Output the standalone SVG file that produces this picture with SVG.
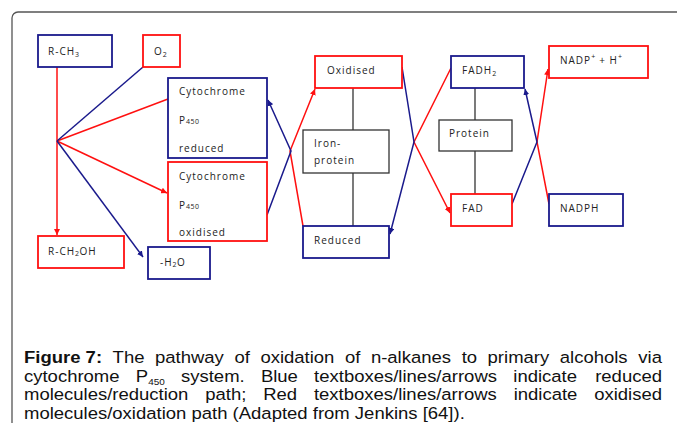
<svg xmlns="http://www.w3.org/2000/svg" width="677" height="423" viewBox="0 0 677 423">
<style>
.bg{fill:#fff}
.frame{fill:none;stroke:#555;stroke-width:1.3}
.bx{fill:#fff;stroke-width:1.8}
.red{stroke:#ff1010}
.blue{stroke:#1a1a8c}
.blk{fill:#fff;stroke:#333;stroke-width:1.3}
.t{font-family:"Open Sans","DejaVu Sans",sans-serif;font-size:10px;letter-spacing:1px;fill:#222}
.sub{font-size:7px;letter-spacing:0.5px}
.ln{fill:none;stroke-width:1.5}
.cap{font-family:"Liberation Sans",Arial,sans-serif;font-size:16.7px;fill:#111}
.b{font-weight:bold}
</style>
<defs>
<marker id="ar" viewBox="0 0 6 6" refX="6" refY="3" markerWidth="6" markerHeight="6" markerUnits="userSpaceOnUse" orient="auto"><path d="M0,0 L6,3 L0,6 z" fill="#ff1010"/></marker>
<marker id="ab" viewBox="0 0 6 6" refX="6" refY="3" markerWidth="6" markerHeight="6" markerUnits="userSpaceOnUse" orient="auto"><path d="M0,0 L6,3 L0,6 z" fill="#1a1a8c"/></marker>
</defs>
<rect class="bg" x="0" y="0" width="677" height="423"/>
<rect class="frame" x="12" y="12" width="700" height="450" rx="6"/>

<g id="connectors">
<line class="ln red" x1="57" y1="67" x2="57" y2="235" marker-end="url(#ar)"/>
<line class="ln red" x1="168" y1="99" x2="57" y2="141"/>
<line class="ln red" x1="57" y1="141" x2="167" y2="193" marker-end="url(#ar)"/>
<line class="ln blue" x1="143" y1="67" x2="57" y2="141"/>
<line class="ln blue" x1="57" y1="141" x2="143" y2="257" marker-end="url(#ab)"/>
<polyline class="ln red" points="303,226 290,151 315,89" marker-end="url(#ar)"/>
<polyline class="ln blue" points="267,215 291,151 268,100" marker-end="url(#ab)"/>
<polyline class="ln red" points="451,68 414,142 450,213" marker-end="url(#ar)"/>
<polyline class="ln blue" points="402,67 414,142 390,234" marker-end="url(#ab)"/>
<polyline class="ln red" points="549,204 537,142 548,69" marker-end="url(#ar)"/>
<polyline class="ln blue" points="512,204 537,142 525,89" marker-end="url(#ab)"/>
<line stroke="#222" stroke-width="1.2" x1="353" y1="88" x2="353" y2="226"/>
<line stroke="#222" stroke-width="1.2" x1="475" y1="88" x2="475" y2="194"/>
</g>

<g id="rch3"><rect class="bx blue" x="38" y="35" width="74" height="32"/><text class="t" x="48" y="55">R-CH<tspan class="sub" dy="2">3</tspan></text></g>
<g id="o2"><rect class="bx red" x="143" y="35" width="37" height="32"/><text class="t" x="154" y="55">O<tspan class="sub" dy="2">2</tspan></text></g>
<g id="cyt-red"><rect class="bx blue" x="168" y="78" width="99" height="80"/>
<text class="t" x="179" y="95">Cytochrome</text><text class="t" x="179" y="124">P<tspan class="sub" font-size="7.5">450</tspan></text><text class="t" x="179" y="152">reduced</text></g>
<g id="cyt-ox"><rect class="bx red" x="168" y="162" width="99" height="79"/>
<text class="t" x="179" y="180">Cytochrome</text><text class="t" x="179" y="209">P<tspan class="sub" font-size="7.5">450</tspan></text><text class="t" x="179" y="236">oxidised</text></g>
<g id="rch2oh"><rect class="bx red" x="38" y="236" width="86" height="32"/><text class="t" x="48" y="255">R-CH<tspan class="sub" dy="1">2</tspan><tspan dy="-1">OH</tspan></text></g>
<g id="h2o"><rect class="bx blue" x="148" y="247" width="62" height="32"/><text class="t" x="160" y="266">-H<tspan class="sub" dy="1">2</tspan><tspan dy="-1">O</tspan></text></g>
<g id="oxidised"><rect class="bx red" x="315" y="56" width="87" height="32"/><text class="t" x="327" y="74">Oxidised</text></g>
<g id="ironprotein"><rect class="blk" x="303" y="130" width="86" height="43"/><text class="t" x="314" y="147">Iron-</text><text class="t" x="314" y="164">protein</text></g>
<g id="reduced"><rect class="bx blue" x="303" y="226" width="86" height="32"/><text class="t" x="314" y="244">Reduced</text></g>
<g id="fadh2"><rect class="bx blue" x="451" y="56" width="73" height="32"/><text class="t" x="462" y="74">FADH<tspan class="sub" dy="2">2</tspan></text></g>
<g id="protein"><rect class="blk" x="439" y="120" width="73" height="31"/><text class="t" x="449" y="137">Protein</text></g>
<g id="fad"><rect class="bx red" x="451" y="194" width="61" height="32"/><text class="t" x="462" y="212">FAD</text></g>
<g id="nadp"><rect class="bx red" x="549" y="46" width="99" height="32"/><text class="t" x="560" y="64" letter-spacing="0.3">NADP<tspan class="sub" dy="-5">+</tspan><tspan dy="5"> + H</tspan><tspan class="sub" dy="-5">+</tspan></text></g>
<g id="nadph"><rect class="bx blue" x="549" y="194" width="74" height="32"/><text class="t" x="560" y="212">NADPH</text></g>

<g id="caption" class="cap" transform="scale(1.1078 1)">
<text y="363"><tspan x="21.66" class="b">Figure 7:</tspan><tspan x="101.64">The</tspan><tspan x="139.92">pathway</tspan><tspan x="211.59">of</tspan><tspan x="235.06">oxidation</tspan><tspan x="311.43">of</tspan><tspan x="334.81">n-alkanes</tspan><tspan x="416.77">to</tspan><tspan x="440.15">primary</tspan><tspan x="505.33">alcohols</tspan><tspan x="597.58" text-anchor="end">via</tspan></text>
<text y="381.6"><tspan x="21.66">cytochrome</tspan><tspan x="122.59">P</tspan><tspan font-size="9" dy="3">450</tspan><tspan x="163.39" dy="-3">system.</tspan><tspan x="235.51">Blue</tspan><tspan x="283.54">textboxes/lines/arrows</tspan><tspan x="463.35">indicate</tspan><tspan x="597.58" text-anchor="end">reduced</tspan></text>
<text y="400.2"><tspan x="21.66">molecules/reduction</tspan><tspan x="185.32">path;</tspan><tspan x="237.59">Red</tspan><tspan x="283.35">textboxes/lines/arrows</tspan><tspan x="463.71">indicate</tspan><tspan x="597.58" text-anchor="end">oxidised</tspan></text>
<text x="21.66" y="418.8">molecules/oxidation path (Adapted from Jenkins [64]).</text>
</g>
</svg>
